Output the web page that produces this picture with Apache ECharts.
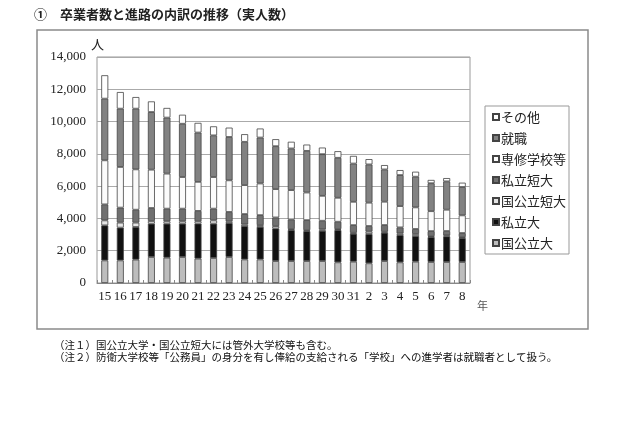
<!DOCTYPE html>
<html><head><meta charset="utf-8">
<script src="https://cdn.jsdelivr.net/npm/echarts@6/dist/echarts.min.js"></script>
<style>html,body{margin:0;padding:0;background:#fff}#c{width:640px;height:426px}</style>
</head><body><div id="c"></div>
<script>
const categories = ['15','16','17','18','19','20','21','22','23','24','25','26','27','28','29','30','31','2','3','4','5','6','7','8'];
const yTicks = [0,2000,4000,6000,8000,10000,12000,14000];
const kokkoritsuDai = [1400,1400,1450,1610,1570,1610,1510,1550,1610,1460,1460,1360,1360,1360,1360,1280,1320,1220,1360,1280,1320,1300,1300,1300];
const shiritsuDai = [2170,2030,2020,2065,2105,2065,2170,2125,2105,2065,2020,2020,1920,1855,1875,2000,1730,1815,1755,1690,1590,1545,1590,1485];
const kokkoritsuTan = [310,310,270,165,145,145,145,205,105,105,105,145,60,60,85,60,60,145,60,105,125,60,60,60];
const shiritsuTan = [990,930,800,805,785,785,640,725,580,640,620,535,600,620,535,455,475,350,415,370,310,310,270,250];
const senshu = [2730,2520,2500,2375,2170,1960,1800,1960,1960,1795,1960,1755,1815,1710,1545,1485,1445,1445,1445,1320,1340,1235,1320,1095];
const shushoku = [3820,3610,3760,3570,3470,3300,3055,2580,2685,2680,2845,2660,2580,2580,2580,2475,2370,2370,2000,1920,1900,1730,1755,1755];
const sonota = [1450,1030,720,660,600,560,600,560,580,475,560,435,415,390,410,410,475,330,270,310,310,205,205,270];

const seriesDefs = [
  {name:'国公立大', data:kokkoritsuDai, color:'#bdbdbd'},
  {name:'私立大', data:shiritsuDai, color:'#111111'},
  {name:'国公立短大', data:kokkoritsuTan, color:'#e4e4e4'},
  {name:'私立短大', data:shiritsuTan, color:'#707070'},
  {name:'専修学校等', data:senshu, color:'#fbfbfb'},
  {name:'就職', data:shushoku, color:'#828282'},
  {name:'その他', data:sonota, color:'#ffffff'}
];
const serif = '"Liberation Serif","DejaVu Serif",serif';
const cjk = '"Noto Sans CJK JP","Noto Sans",sans-serif';

const chart = echarts.init(document.getElementById('c'), null, {renderer:'canvas'});
chart.setOption({
  animation:false,
  backgroundColor:'#fff',
  textStyle:{fontFamily:cjk},
  grid:{left:97, right:170, top:57, bottom:143, show:true, borderColor:'#999', borderWidth:1},
  legend:{
    orient:'vertical', left:485, top:106,
    data:['その他','就職','専修学校等','私立短大','国公立短大','私立大','国公立大'],
    itemWidth:6, itemHeight:6, itemGap:7, icon:'rect',
    borderColor:'#999', borderWidth:1, padding:[4,3,4,7],
    textStyle:{fontFamily:cjk, fontSize:13, color:'#222', lineHeight:14, padding:[0,0,0,-3]}
  },
  xAxis:{
    type:'category', data:categories,
    axisLine:{lineStyle:{color:'#888'}},
    axisTick:{show:true, inside:true, length:3, lineStyle:{color:'#888'}},
    axisLabel:{fontFamily:serif, fontSize:13, color:'#222', margin:7, interval:0}
  },
  yAxis:{
    type:'value', min:yTicks[0], max:yTicks[yTicks.length-1], interval:yTicks[1]-yTicks[0],
    name:'人', nameLocation:'end', nameGap:4,
    nameTextStyle:{fontFamily:cjk, fontSize:13, color:'#222', align:'left', padding:[0,0,0,-6]},
    axisLine:{show:false}, axisTick:{show:false},
    axisLabel:{fontFamily:serif, fontSize:13, color:'#222', margin:11,
      formatter:v=>v.toLocaleString('en-US')},
    splitLine:{lineStyle:{color:'#aaa', width:1}}
  },
  series: seriesDefs.map(s=>({
    name:s.name, type:'bar', stack:'t', data:s.data, barWidth:7,
    itemStyle:{color:s.color, borderColor:'#444', borderWidth:0.8}
  })),
  graphic:[
    {type:'rect', shape:{x:37, y:30, width:551, height:299}, style:{fill:'none', stroke:'#8a8a8a', lineWidth:1.5}, z:-1},
    {type:'text', left:34, top:8, style:{text:'①　卒業者数と進路の内訳の推移（実人数）', font:'bold 13px "Noto Sans CJK JP"', fill:'#222'}},
    {type:'text', left:477, top:300, style:{text:'年', font:'11px "Noto Sans CJK JP"', fill:'#555'}},
    {type:'text', left:54, top:340, style:{text:'（注１）国公立大学・国公立短大には管外大学校等も含む。', font:'10.5px "Noto Sans CJK JP"', fill:'#111'}},
    {type:'text', left:54, top:352, style:{text:'（注２）防衛大学校等「公務員」の身分を有し俸給の支給される「学校」への進学者は就職者として扱う。', font:'10.5px "Noto Sans CJK JP"', fill:'#111'}}
  ]
});
</script></body></html>
